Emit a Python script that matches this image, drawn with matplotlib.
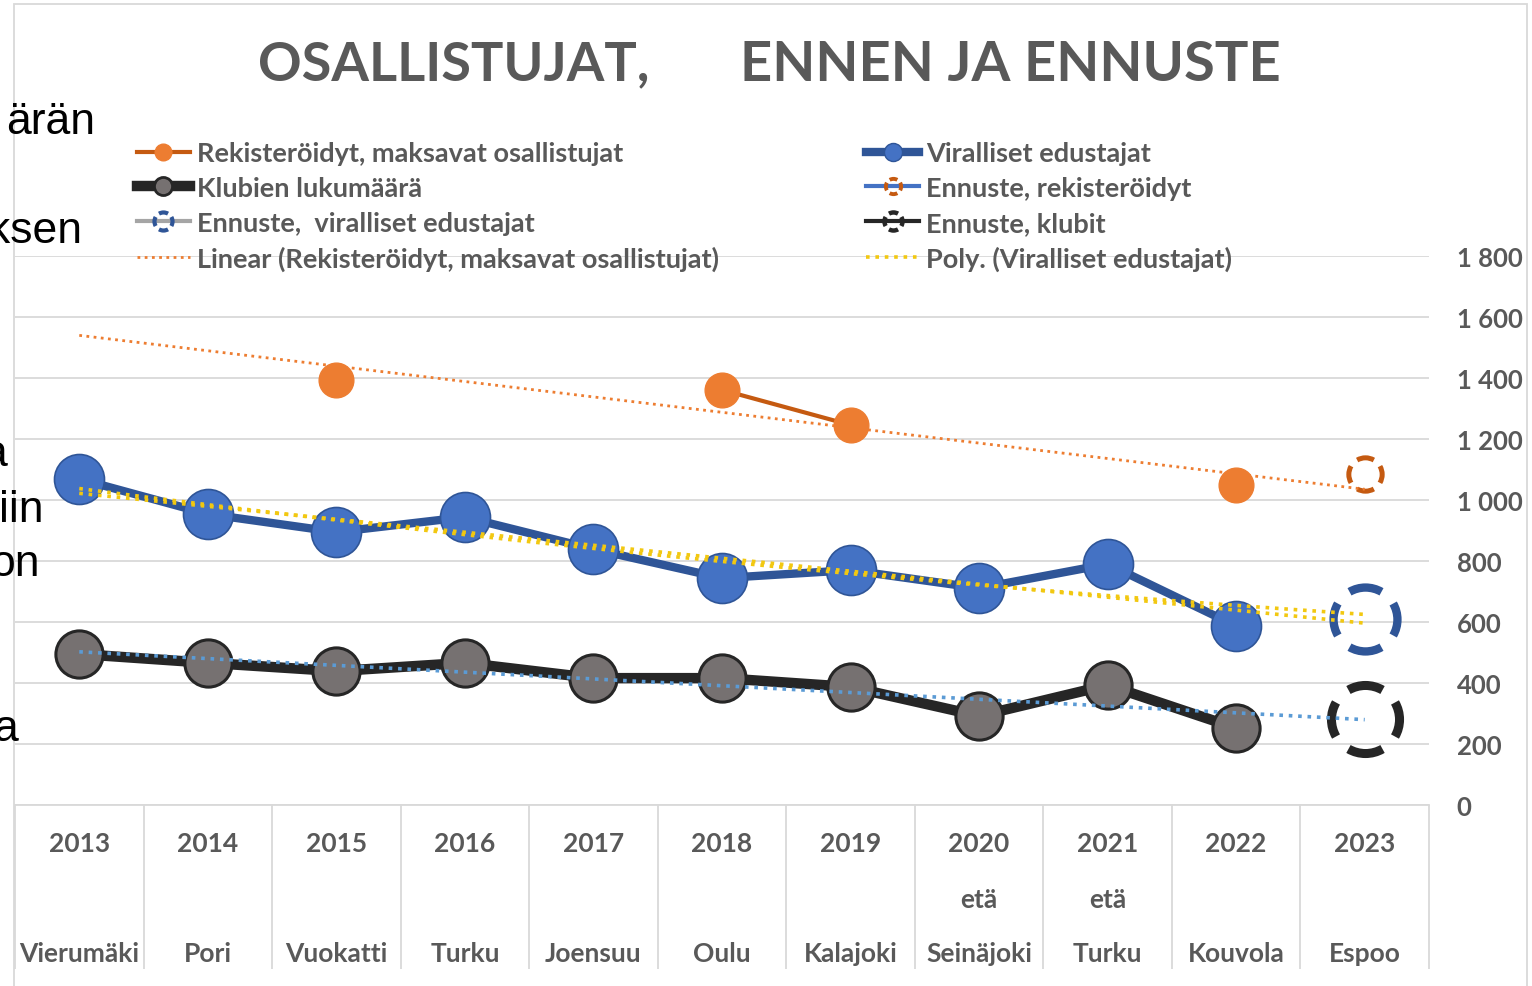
import numpy as np
import matplotlib
matplotlib.use("Agg")
import matplotlib.pyplot as plt
from matplotlib.path import Path
from matplotlib.patches import Rectangle
from matplotlib.ticker import FuncFormatter

# ---- data ----
years = ["2013", "2014", "2015", "2016", "2017", "2018", "2019", "2020", "2021", "2022", "2023"]
remote = ["", "", "", "", "", "", "", "etä", "etä", "", ""]
venues = ["Vierumäki", "Pori", "Vuokatti", "Turku", "Joensuu", "Oulu", "Kalajoki",
          "Seinäjoki", "Turku", "Kouvola", "Espoo"]

registered = [np.nan, np.nan, 1393, np.nan, np.nan, 1361, 1246, np.nan, np.nan, 1049]
official = [1069, 954, 895, 944, 839, 744, 770, 711, 790, 587]
clubs = [495, 466, 439, 466, 416, 416, 387, 292, 393, 252]

fc_registered = 1085
fc_official = 610
fc_clubs = 282

side_text = ["ärän", "ksen", "a", "iin", "on", "a"]

W, H = 1532, 987
GRAY = "#595959"
FONT = "Lato"

x = np.arange(1, len(years) + 1)
xh = x[:len(official)]

fig = plt.figure(figsize=(W / 100, H / 100), dpi=100)
ax = fig.add_axes([15 / W, 1 - 806 / H, (1429 - 15) / W, (806 - 257) / H])

# dashed ring marker for the forecasts
ring = Path.make_compound_path(*[Path.arc(c - 30, c + 30) for c in (0, 90, 180, 270)])

# ---- series ----
h_reg, = ax.plot(xh, registered, color="#c55a11", lw=3, marker="o", ms=25,
                 mfc="#ed7d31", mec="#ed7d31", zorder=3)
h_club, = ax.plot(xh, clubs, color="#262626", lw=7.5, marker="o", ms=34,
                  mfc="#767171", mec="#262626", mew=2.2, zorder=3)
h_fco, = ax.plot([x[-1]], [fc_official], color="#a5a5a5", lw=3, marker=ring, ms=46,
                 mfc="none", mec="#2f5597", mew=6, zorder=3)
h_off, = ax.plot(xh, official, color="#2f5597", lw=6, marker="o", ms=36,
                 mfc="#4472c4", mec="#2f5597", mew=1.2, zorder=3)
h_fcr, = ax.plot([x[-1]], [fc_registered], color="#4472c4", lw=3, marker=ring, ms=24,
                 mfc="none", mec="#c55a11", mew=3.6, zorder=3)
h_fcc, = ax.plot([x[-1]], [fc_clubs], color="#262626", lw=3, marker=ring, ms=49,
                 mfc="none", mec="#262626", mew=6.5, zorder=3)

# ---- trend lines (fitted on the data) ----
dots = (0, (1, 1.6))
reg = np.array(registered, dtype=float)
ok = ~np.isnan(reg)
p_reg = np.polyfit(xh[ok], reg[ok], 1)
h_lin, = ax.plot(x, np.polyval(p_reg, x), color="#ed7d31", lw=2, ls=dots, zorder=4)

p_off1 = np.polyfit(xh, official, 1)
p_off2 = np.polyfit(xh, official, 2)
xs = np.linspace(1, 11, 200)
ax.plot(x, np.polyval(p_off1, x), color="#f2c811", lw=2.6, ls=dots, zorder=4)
h_poly, = ax.plot(xs, np.polyval(p_off2, xs), color="#f2c811", lw=2.6, ls=dots, zorder=4)

p_club = np.polyfit(xh, clubs, 1)
ax.plot(x, np.polyval(p_club, x), color="#5b9bd5", lw=2.6, ls=dots, zorder=4)

# ---- axes ----
ax.set_xlim(0.5, len(years) + 0.5)
ax.set_ylim(0, 1800)
ax.set_yticks(np.arange(0, 1801, 200))
ax.yaxis.tick_right()
ax.yaxis.set_major_formatter(FuncFormatter(lambda v, p: f"{int(v):,}".replace(",", " ")))
ax.tick_params(axis="y", length=0, pad=20, labelsize=18.5, labelcolor=GRAY)
for lab in ax.get_yticklabels():
    lab.set_fontfamily(FONT)
    lab.set_fontweight("bold")
ax.set_xticks([])
ax.grid(axis="y", color="#d9d9d9", lw=1.3, zorder=0)
ax.set_axisbelow(True)
for s in ["top", "left", "right"]:
    ax.spines[s].set_visible(False)
ax.spines["bottom"].set_color("#d9d9d9")
ax.spines["bottom"].set_linewidth(1.3)

# category dividers and multi-level labels
xt = ax.get_xaxis_transform()
ax.vlines(np.arange(0.5, len(years) + 1), 0, -(970 - 806) / 549, transform=xt,
          color="#d9d9d9", lw=1.3, clip_on=False)
lab_kw = dict(transform=xt, ha="center", va="center", fontsize=19, fontweight="bold",
              color=GRAY, family=FONT, clip_on=False)
for xi, yr, rm, vn in zip(x, years, remote, venues):
    ax.text(xi, -(844 - 806) / 549, yr, **lab_kw)
    if rm:
        ax.text(xi, -(900 - 806) / 549, rm, **lab_kw)
    ax.text(xi, -(954 - 806) / 549, vn, **lab_kw)

# ---- legend ----
handles = [h_reg, h_club, h_fco, h_lin, h_off, h_fcr, h_fcc, h_poly]
labels = ["Rekisteröidyt, maksavat osallistujat", "Klubien lukumäärä",
          "Ennuste,  viralliset edustajat", "Linear (Rekisteröidyt, maksavat osallistujat)",
          "Viralliset edustajat", "Ennuste, rekisteröidyt", "Ennuste, klubit",
          "Poly. (Viralliset edustajat)"]
leg = fig.legend(handles, labels, loc="upper left", bbox_to_anchor=(137 / W, 1 - 142 / H),
                 ncol=2, frameon=False, borderpad=0, borderaxespad=0,
                 handlelength=1.95, handletextpad=0.25, columnspacing=5.45,
                 labelspacing=0.4, prop={"family": FONT, "weight": "bold", "size": 19.5})
for t in leg.get_texts():
    t.set_color(GRAY)
leg_ms = [12, 13, 13, None, 13, 11, 13, None]
leg_mew = [1, 2, 3, None, 1, 2.8, 3.2, None]
for hd, ms, mw in zip(leg.legend_handles, leg_ms, leg_mew):
    if ms is not None:
        hd.set_markersize(ms)
        hd.set_markeredgewidth(mw)

# ---- title ----
fig.text(258 / W, 1 - 65 / H, "OSALLISTUJAT,", ha="left", va="center", fontsize=39,
         fontweight="bold", color=GRAY, family=FONT)
fig.text(740 / W, 1 - 65 / H, "ENNEN JA ENNUSTE", ha="left", va="center", fontsize=40.3,
         fontweight="bold", color=GRAY, family=FONT)

# chart frame
fig.patches.append(Rectangle((14 / W, -0.01), (1527 - 14) / W, 1.01 - 5 / H,
                             transform=fig.transFigure, fill=False,
                             ec="#d9d9d9", lw=1.3))

# clipped slide text on the left
side_pos = [(95, 122), (82, 232), (7, 455), (44, 510), (40, 565), (18, 730)]
for s, (px, py) in zip(side_text, side_pos):
    fig.text(px / W, 1 - py / H, s, ha="right", va="center", fontsize=32,
             family="Liberation Sans", color="black")

fig.savefig("out.png", dpi=100)
